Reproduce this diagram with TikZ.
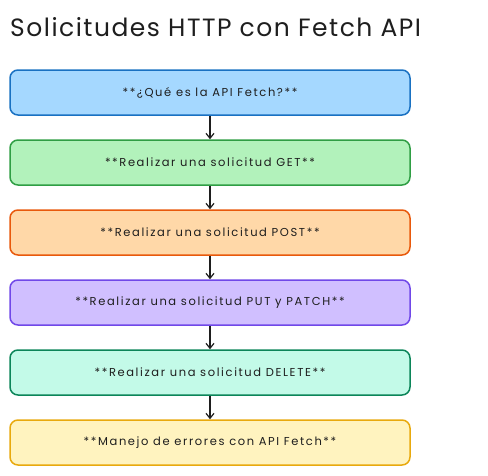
\documentclass[tikz,border=0pt]{standalone}
\usepackage{fontspec}
\setmainfont{Poppins}
\newfontfamily\titulofont[LetterSpace=6]{Poppins}
\newfontfamily\pasofont[LetterSpace=14]{Poppins}
\usetikzlibrary{arrows.meta}

\definecolor{tinta}{HTML}{1E1E1E}
\definecolor{azulF}{HTML}{A5D8FF}\definecolor{azulB}{HTML}{1971C2}
\definecolor{verdeF}{HTML}{B2F2BB}\definecolor{verdeB}{HTML}{2F9E44}
\definecolor{naranjaF}{HTML}{FFD8A8}\definecolor{naranjaB}{HTML}{E8590C}
\definecolor{moradoF}{HTML}{D0BFFF}\definecolor{moradoB}{HTML}{7048E8}
\definecolor{mentaF}{HTML}{C3FAE8}\definecolor{mentaB}{HTML}{0C8559}
\definecolor{amarilloF}{HTML}{FFF3BF}\definecolor{amarilloB}{HTML}{E8A90E}

\tikzset{
  paso/.style={draw, line width=1.5pt, rounded corners=8pt, minimum width=400pt,
    minimum height=45pt, text=tinta, font=\pasofont\fontsize{11.5}{13}\selectfont},
  flecha/.style={-{Straight Barb[length=5pt,width=8pt]}, line width=1.2pt, draw=tinta}
}

\begin{document}
\begin{tikzpicture}[x=1pt,y=1pt]
\useasboundingbox (0,0) rectangle (488,-475);

% Titulo
\node[anchor=base west, inner sep=0pt, text=tinta, font=\titulofont\fontsize{25}{28}\selectfont] (titulo) at (10,-36) {Solicitudes HTTP con Fetch API};

% Dibuja los pasos
\node[paso, fill=azulF, draw=azulB] (api) at (210,-92.5) {**¿Qué es la API Fetch?**};
\node[paso, fill=verdeF, draw=verdeB] (get) at (210,-162.5) {**Realizar una solicitud GET**};
\node[paso, fill=naranjaF, draw=naranjaB] (post) at (210,-232.5) {**Realizar una solicitud POST**};
\node[paso, fill=moradoF, draw=moradoB] (put) at (210,-302.5) {**Realizar una solicitud PUT y PATCH**};
\node[paso, fill=mentaF, draw=mentaB] (delete) at (210,-372.5) {**Realizar una solicitud DELETE**};
\node[paso, fill=amarilloF, draw=amarilloB] (errores) at (210,-442.5) {**Manejo de errores con API Fetch**};

% Dibuja las flechas
\draw[flecha] (api) -- (get);
\draw[flecha] (get) -- (post);
\draw[flecha] (post) -- (put);
\draw[flecha] (put) -- (delete);
\draw[flecha] (delete) -- (errores);

\end{tikzpicture}
\end{document}
